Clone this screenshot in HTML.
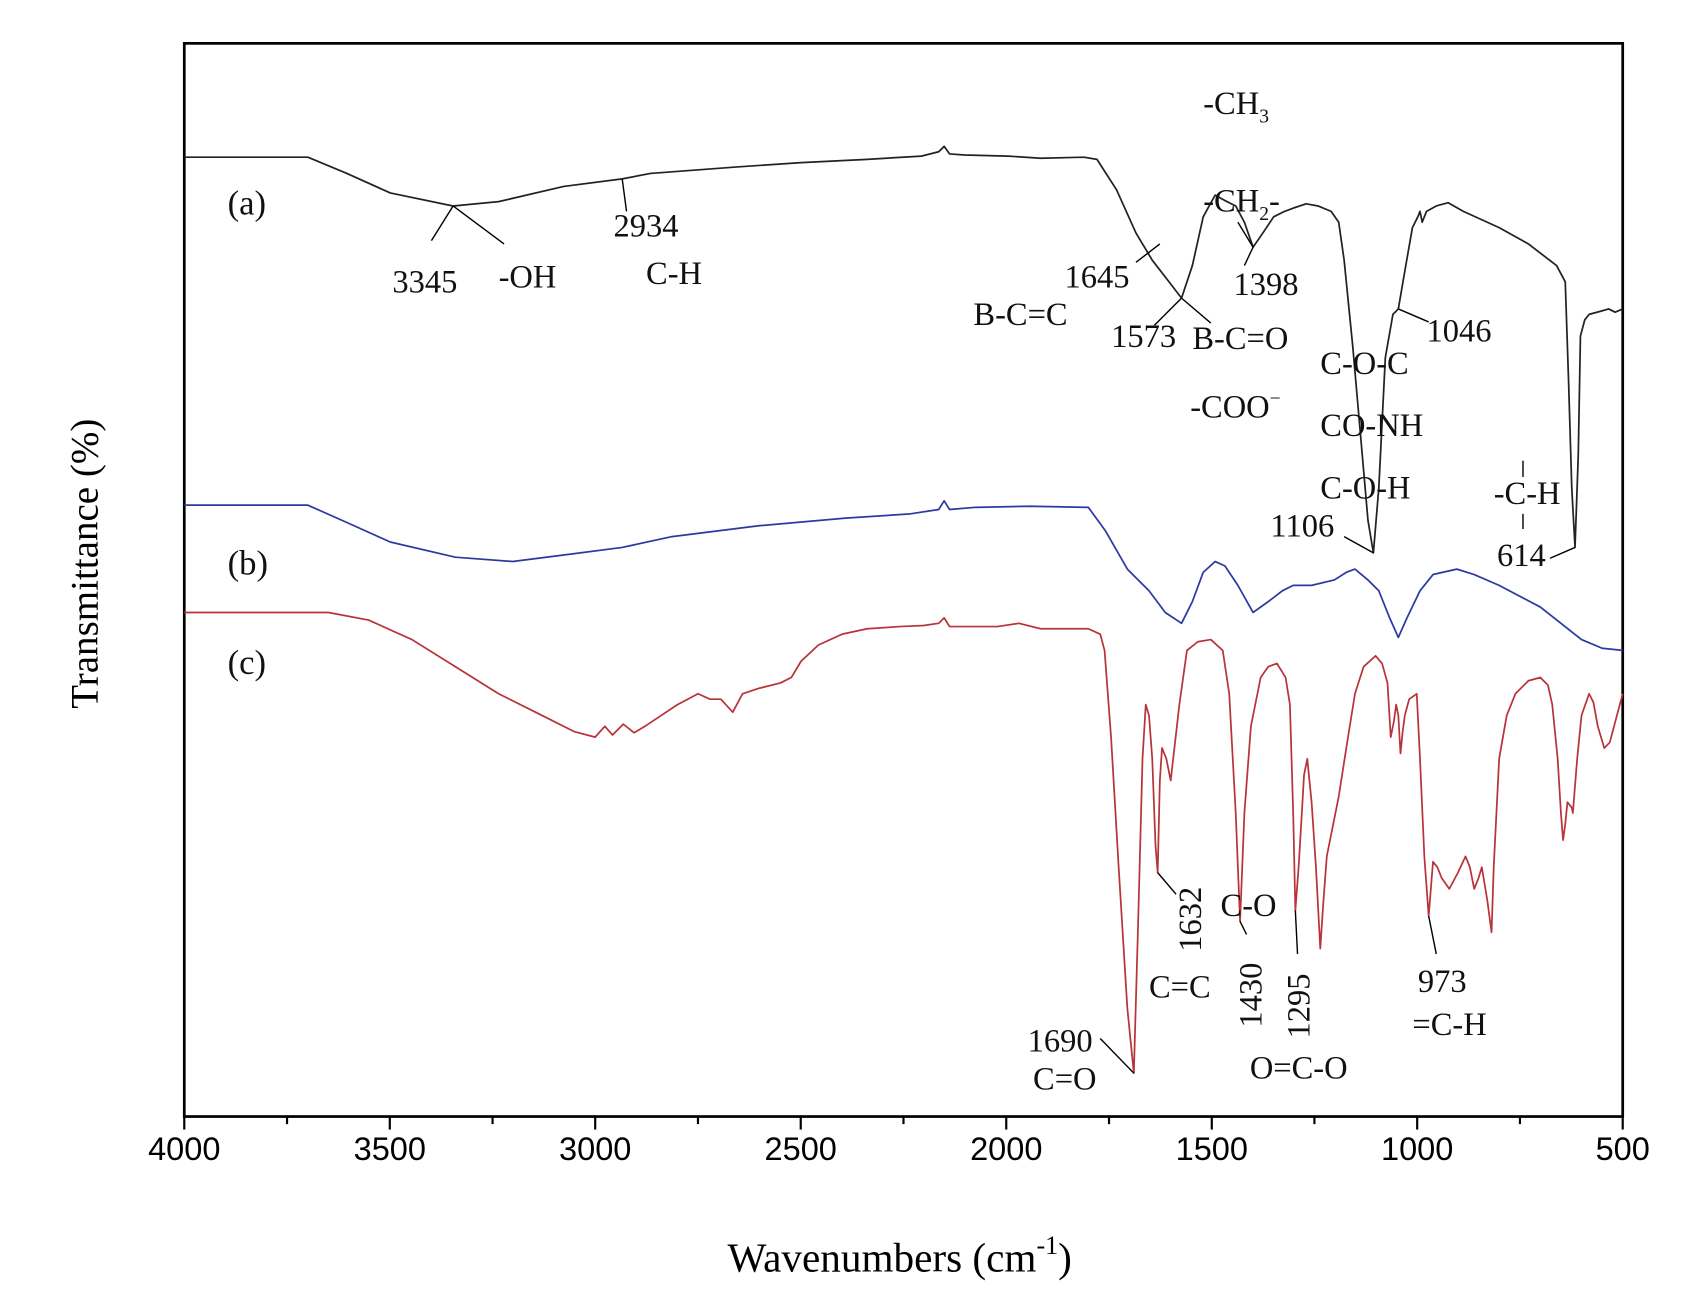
<!DOCTYPE html>
<html><head><meta charset="utf-8"><style>html,body{margin:0;padding:0;background:#fff}svg{display:block}</style></head>
<body>
<svg width="1691" height="1316" viewBox="0 0 1560 1214" preserveAspectRatio="none" xmlns="http://www.w3.org/2000/svg" font-family="Liberation Serif, serif">
<rect x="170" y="40" width="1327" height="990" fill="none" stroke="#000" stroke-width="2.5"/>
<g stroke="#000" stroke-width="2">
<line x1="170" y1="1030" x2="170" y2="1042"/><line x1="359.6" y1="1030" x2="359.6" y2="1042"/><line x1="549.1" y1="1030" x2="549.1" y2="1042"/><line x1="738.7" y1="1030" x2="738.7" y2="1042"/><line x1="928.3" y1="1030" x2="928.3" y2="1042"/><line x1="1117.9" y1="1030" x2="1117.9" y2="1042"/><line x1="1307.4" y1="1030" x2="1307.4" y2="1042"/><line x1="1497" y1="1030" x2="1497" y2="1042"/>
<line x1="264.8" y1="1030" x2="264.8" y2="1037"/><line x1="454.4" y1="1030" x2="454.4" y2="1037"/><line x1="643.9" y1="1030" x2="643.9" y2="1037"/><line x1="833.5" y1="1030" x2="833.5" y2="1037"/><line x1="1023.1" y1="1030" x2="1023.1" y2="1037"/><line x1="1212.6" y1="1030" x2="1212.6" y2="1037"/><line x1="1402.2" y1="1030" x2="1402.2" y2="1037"/>
</g>
<g font-family="Liberation Sans, sans-serif" font-size="30" text-anchor="middle">
<text x="170" y="1070">4000</text><text x="359.6" y="1070">3500</text><text x="549.1" y="1070">3000</text><text x="738.7" y="1070">2500</text><text x="928.3" y="1070">2000</text><text x="1117.9" y="1070">1500</text><text x="1307.4" y="1070">1000</text><text x="1497" y="1070">500</text>
</g>
<text x="830" y="1173" font-size="38" text-anchor="middle">Wavenumbers (cm<tspan font-size="24" dy="-16">-1</tspan><tspan dy="16">)</tspan></text>
<text transform="translate(90,520) rotate(-90)" font-size="36" text-anchor="middle">Transmittance (%)</text>
<g fill="none" stroke-width="1.6" stroke-linejoin="round">
<polyline stroke="#222" points="170,145 284,145 320,160 360,178 418,190 460,186 520,172 574,165 600,160 680,154 739,150 800,147 850,144 866,140 871,135 876,142 890,143 930,144 960,146 1000,145 1012,147 1030,175 1048,215 1063,240 1080,262 1090,275 1100,245 1110,200 1121,180 1130,185 1140,190 1148,205 1156,228 1165,215 1175,200 1185,195 1193,192 1205,188 1216,190 1228,195 1235,205 1240,240 1248,320 1255,400 1262,480 1267,510 1272,450 1278,330 1285,290 1290,285 1296,250 1303,210 1308,200 1310,195 1312,205 1316,195 1325,190 1336,187 1350,195 1383,210 1410,225 1436,245 1444,260 1447,350 1450,450 1453,505 1456,420 1458,310 1462,295 1466,290 1477,287 1484,285 1490,288 1497,285"/>
<polyline stroke="#2b3aa0" points="170,466 284,466 320,482 360,500 420,514 473,518 520,512 574,505 620,495 700,485 780,478 840,474 866,470 871,462 876,470 900,468 950,467 1004,468 1020,490 1040,525 1060,545 1075,565 1090,575 1100,555 1110,528 1121,518 1130,522 1142,540 1156,565 1170,555 1183,545 1193,540 1210,540 1231,535 1242,528 1250,525 1256,530 1262,535 1272,545 1282,570 1290,588 1298,570 1310,545 1322,530 1344,525 1360,530 1383,540 1421,560 1440,575 1459,590 1478,598 1497,600"/>
<polyline stroke="#b8333a" points="170,565 303,565 340,572 380,590 420,615 460,640 500,660 530,675 549,680 558,670 565,678 575,668 585,676 595,670 610,660 625,650 644,640 655,645 665,645 676,657 685,640 700,635 720,630 730,625 739,610 755,595 777,585 800,580 830,578 852,577 866,575 871,570 876,578 920,578 940,575 960,580 1004,580 1015,585 1019,600 1025,680 1032,800 1040,930 1046,990 1050,850 1054,700 1057,650 1060,660 1063,700 1066,780 1068,805 1070,720 1072,690 1076,700 1080,720 1088,650 1095,600 1105,592 1117,590 1128,600 1134,640 1140,750 1144,850 1148,750 1154,670 1163,625 1170,615 1178,612 1186,625 1190,650 1193,750 1195,840 1198,800 1201,750 1203,715 1206,700 1210,740 1214,800 1218,875 1221,830 1224,790 1230,760 1235,735 1242,690 1250,640 1258,615 1269,605 1275,612 1280,630 1283,680 1286,665 1288,650 1290,660 1292,695 1294,675 1296,660 1300,645 1307,640 1310,700 1314,790 1318,845 1320,820 1322,795 1326,800 1330,810 1337,820 1345,805 1352,790 1356,800 1360,820 1364,810 1367,800 1372,830 1376,860 1378,800 1383,700 1390,660 1398,640 1410,628 1421,625 1428,632 1432,650 1437,700 1440,750 1442,775 1444,760 1446,740 1450,745 1451,750 1455,700 1459,660 1466,640 1470,648 1474,670 1480,690 1485,685 1489,670 1497,640"/>
</g>
<g stroke="#000" stroke-width="1.3" fill="none">
<line x1="418" y1="190" x2="398" y2="222"/><line x1="418" y1="190" x2="465" y2="225"/>
<line x1="574" y1="165" x2="578" y2="195"/>
<line x1="1048" y1="242" x2="1070" y2="225"/>
<line x1="1090" y1="275" x2="1065" y2="300"/><line x1="1090" y1="275" x2="1117" y2="298"/>
<line x1="1142" y1="205" x2="1156" y2="228"/><line x1="1156" y1="228" x2="1148" y2="245"/>
<line x1="1290" y1="285" x2="1318" y2="297"/>
<line x1="1240" y1="495" x2="1267" y2="510"/>
<line x1="1430" y1="515" x2="1453" y2="505"/>
<line x1="1405" y1="425" x2="1405" y2="440"/><line x1="1405" y1="474" x2="1405" y2="488"/>
<line x1="1068" y1="805" x2="1085" y2="825"/>
<line x1="1144" y1="850" x2="1150" y2="862"/>
<line x1="1195" y1="840" x2="1197" y2="880"/>
<line x1="1318" y1="845" x2="1325" y2="880"/>
<line x1="1015" y1="958" x2="1046" y2="990"/>
</g>
<g font-size="30" fill="#111">
<text x="210" y="198" font-size="32">(a)</text><text x="210" y="530" font-size="32">(b)</text><text x="210" y="622" font-size="32">(c)</text>
<text x="362" y="270">3345</text><text x="460" y="265">-OH</text>
<text x="566" y="218">2934</text><text x="596" y="262">C-H</text>
<text x="1110" y="105">-CH<tspan font-size="18" dy="8">3</tspan></text>
<text x="1110" y="195">-CH<tspan font-size="18" dy="8">2</tspan><tspan dy="-8">-</tspan></text>
<text x="982" y="265">1645</text><text x="898" y="300">B-C=C</text>
<text x="1025" y="320">1573</text><text x="1100" y="322">B-C=O</text>
<text x="1138" y="272">1398</text><text x="1316" y="315">1046</text>
<text x="1098" y="385">-COO<tspan font-size="18" dy="-12">−</tspan></text>
<text x="1218" y="345">C-O-C</text><text x="1218" y="402">CO-NH</text><text x="1218" y="460">C-O-H</text>
<text x="1172" y="495">1106</text>
<text x="1378" y="465">-C-H</text><text x="1381" y="522">614</text>
<text x="1126" y="845">C-O</text>
<text transform="translate(1108,878) rotate(-90)">1632</text>
<text x="1060" y="920">C=C</text>
<text transform="translate(1164,948) rotate(-90)">1430</text>
<text transform="translate(1208,958) rotate(-90)">1295</text>
<text x="1153" y="995">O=C-O</text>
<text x="1308" y="915">973</text><text x="1303" y="955">=C-H</text>
<text x="948" y="970">1690</text><text x="953" y="1005">C=O</text>
</g>
</svg>
</body></html>
